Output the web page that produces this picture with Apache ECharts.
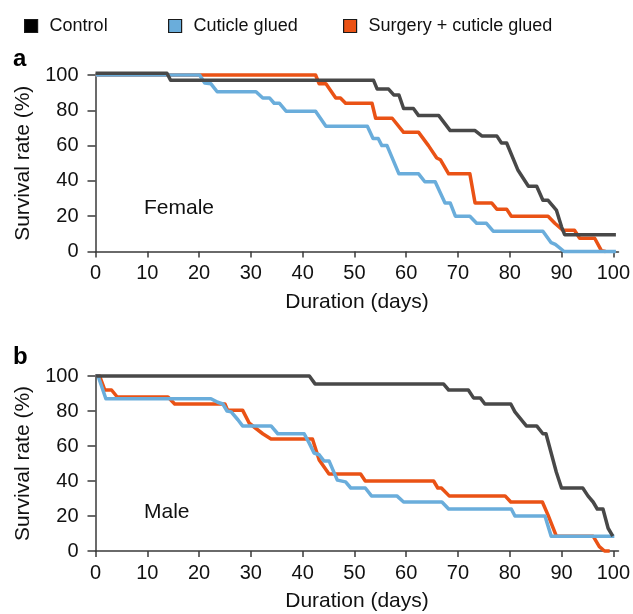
<!DOCTYPE html>
<html>
<head>
<meta charset="utf-8">
<script src="https://cdn.jsdelivr.net/npm/echarts@6.0.0/dist/echarts.min.js"></script>
<style>html,body{margin:0;padding:0;background:#fff;}#c{width:633px;height:614px;}</style>
</head>
<body>
<div id="c"></div>
<script>
// ---- tick labels ----
var xTicks = [0, 10, 20, 30, 40, 50, 60, 70, 80, 90, 100];
var yTicks = [0, 20, 40, 60, 80, 100];
var seriesNames = ['Control', 'Cuticle glued', 'Surgery + cuticle glued'];

// ---- Female (panel a) ----
var femControlDays = [0, 13.8, 14.5, 53.7, 54.4, 56.6, 57.6, 58.6, 59.5, 61.4, 62.4, 66.3, 68.5, 73.3, 74.6, 77.5, 78.4, 79.4, 81.6, 83.6, 85.2, 86.4, 87.4, 89, 90, 90.6, 100.5];
var femControlRate = [101, 101, 97, 97, 92, 92, 88.7, 88.7, 81, 81, 77, 77, 68.5, 68.5, 65.5, 65.5, 61.5, 61.5, 46, 37, 37, 29, 29, 23.5, 14, 9.5, 9.5];

var femGluedDays = [0, 20.1, 21.1, 22.3, 23.5, 31, 32.3, 33.6, 34.5, 35.5, 36.8, 42.5, 44.5, 52.5, 53.6, 54.6, 55.3, 56.3, 58.6, 62.4, 63.6, 65.6, 67.5, 68.5, 69.5, 72.3, 73.6, 75.5, 76.8, 86.4, 88, 88.8, 90.5, 100.5];
var femGluedRate = [100, 100, 95.5, 95, 90.5, 90.5, 87, 87, 84, 84, 79.5, 79.5, 71, 71, 64, 64, 60, 60, 44, 44, 39.5, 39.5, 27.5, 27.5, 20, 20, 16, 16, 11.5, 11.5, 5, 4, 0, 0];

var femSurgDays = [0, 42.5, 43.2, 44.5, 46.4, 47.3, 48.3, 53.4, 54.1, 57.3, 59.5, 62.4, 64.3, 65.9, 66.6, 68.2, 72.3, 73.3, 76.5, 77.5, 79.4, 80.3, 87.4, 88.7, 90.3, 92.5, 93.5, 96.4, 97.7, 98.5];
var femSurgRate = [100, 100, 95, 95, 87, 87, 84, 84, 75.5, 75.5, 67.5, 67.5, 60, 53, 52, 44, 44, 27.5, 27.5, 24, 24, 20, 20, 16, 12, 12, 7.5, 7.5, 0.5, 0];

// ---- Male (panel b) ----
var maleControlDays = [0, 41.3, 42.4, 67.2, 68.2, 72, 73, 74.3, 75.2, 80.2, 81, 83.2, 85.2, 86.4, 87, 89, 90, 94.1, 95.1, 96.1, 96.9, 98, 99, 99.9];
var maleControlRate = [100, 100, 95.5, 95.5, 92, 92, 87.5, 87.5, 84, 84, 79.5, 71.5, 71.5, 67, 67, 45, 36, 36, 31.5, 28, 24, 24, 13, 8.5];

var maleGluedDays = [0, 0.5, 2, 22.3, 23.6, 24.6, 25.4, 26.2, 27.5, 28.4, 33.9, 35.2, 40.3, 41.3, 42.2, 43.2, 44.1, 45.1, 46.7, 48.3, 49.3, 52.1, 53.3, 58.2, 59.5, 66.9, 68.2, 80.3, 81, 86.8, 88, 100.2];
var maleGluedRate = [100, 100, 87, 87, 85, 84, 80, 79.5, 75, 71.5, 71.5, 67, 67, 61.5, 56, 55, 51.5, 51.5, 40.5, 39.5, 36, 36, 31.5, 31.5, 28, 28, 24, 24, 20, 20, 8.5, 8.5];

var maleSurgDays = [0, 0.8, 1.8, 3.1, 4.2, 14, 15.3, 23.3, 25, 25.5, 28.4, 29.7, 32.3, 33.9, 41.9, 43.2, 45.1, 51.2, 52.1, 65.3, 66.1, 66.8, 68.3, 79.1, 80.2, 86.3, 87.4, 89, 96.1, 97.3, 98.3, 99.3];
var maleSurgRate = [100, 100, 92, 92, 88, 88, 84, 84, 84, 80.5, 80.5, 73, 67, 64, 64, 52, 44, 44, 40, 40, 36, 36, 31.5, 31.5, 28, 28, 20.5, 8.5, 8.5, 2.5, 0, 0];

function zip(a, b) { return a.map(function (v, i) { return [v, b[i]]; }); }

var C_CONTROL = '#484848', C_GLUED = '#6aaddb', C_SURG = '#ea5215';
var FONT = 'Liberation Sans, Arial, Helvetica, sans-serif';
var AX = '#3a3a3a';

function xAxisCfg(idx) {
  return {
    type: 'value', gridIndex: idx, min: 0, max: 101,
    axisLine: { show: true, lineStyle: { color: AX, width: 1.5 } },
    axisTick: { show: true, length: 6, lineStyle: { color: AX, width: 1.5 }, customValues: xTicks },
    axisLabel: { color: '#111', fontSize: 20, fontFamily: FONT, margin: 12, customValues: xTicks },
    splitLine: { show: false },
    name: 'Duration (days)', nameLocation: 'middle', nameGap: 40,
    nameTextStyle: { color: '#111', fontSize: 21, fontFamily: FONT }
  };
}
function yAxisCfg(idx) {
  return {
    type: 'value', gridIndex: idx, min: 0, max: 100, interval: 20,
    axisLine: { show: true, lineStyle: { color: AX, width: 1.5 } },
    axisTick: { show: true, length: 8, lineStyle: { color: AX, width: 1.5 } },
    axisLabel: { color: '#111', fontSize: 20, fontFamily: FONT, margin: 17 },
    splitLine: { show: false },
    name: 'Survival rate (%)', nameLocation: 'middle', nameGap: 62,
    nameTextStyle: { color: '#111', fontSize: 21, fontFamily: FONT }
  };
}
function lineSeries(name, data, color, idx) {
  return {
    type: 'line', name: name, xAxisIndex: idx, yAxisIndex: idx,
    data: data, showSymbol: false, symbol: 'none', clip: false, animation: false,
    lineStyle: { color: color, width: 3.5, join: 'round', cap: 'butt' },
    itemStyle: { color: color }
  };
}
function legendCfg(name, left, color) {
  return {
    data: [{ name: name, itemStyle: { color: color, borderColor: '#1a1a1a', borderWidth: 1.2 } }],
    left: left, top: 17, padding: 0, icon: 'rect', itemWidth: 13, itemHeight: 13,
    selectedMode: false,
    textStyle: { color: '#111', fontSize: 18, fontFamily: FONT, padding: [0, 0, 0, 7] }
  };
}

var chart = echarts.init(document.getElementById('c'), null, { renderer: 'canvas' });
chart.setOption({
  animation: false,
  backgroundColor: '#fff',
  grid: [
    { left: 95.5, top: 75, width: 525, height: 176.5 },
    { left: 95.5, top: 376, width: 525, height: 175 }
  ],
  xAxis: [xAxisCfg(0), xAxisCfg(1)],
  yAxis: [yAxisCfg(0), yAxisCfg(1)],
  legend: [
    legendCfg(seriesNames[0], 24, '#000'),
    legendCfg(seriesNames[1], 168, C_GLUED),
    legendCfg(seriesNames[2], 343, C_SURG)
  ],
  graphic: [
    { type: 'text', left: 13, top: 47, style: { text: 'a', fontSize: 24, fontWeight: 'bold', fontFamily: FONT, fill: '#000' } },
    { type: 'text', left: 13, top: 345, style: { text: 'b', fontSize: 24, fontWeight: 'bold', fontFamily: FONT, fill: '#000' } },
    { type: 'text', left: 144, top: 198, style: { text: 'Female', fontSize: 21, fontFamily: FONT, fill: '#111' } },
    { type: 'text', left: 144, top: 502, style: { text: 'Male', fontSize: 21, fontFamily: FONT, fill: '#111' } }
  ],
  series: [
    lineSeries(seriesNames[2], zip(femSurgDays, femSurgRate), C_SURG, 0),
    lineSeries(seriesNames[1], zip(femGluedDays, femGluedRate), C_GLUED, 0),
    lineSeries(seriesNames[0], zip(femControlDays, femControlRate), C_CONTROL, 0),
    lineSeries(seriesNames[2], zip(maleSurgDays, maleSurgRate), C_SURG, 1),
    lineSeries(seriesNames[1], zip(maleGluedDays, maleGluedRate), C_GLUED, 1),
    lineSeries(seriesNames[0], zip(maleControlDays, maleControlRate), C_CONTROL, 1)
  ]
});
</script>
</body>
</html>
